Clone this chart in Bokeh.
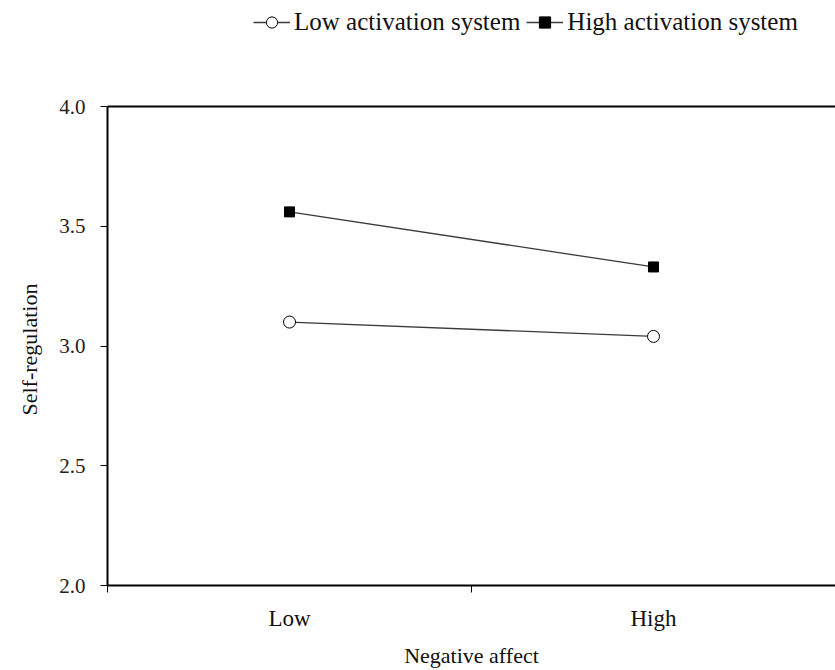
from bokeh.plotting import figure
from bokeh.models import (Range1d, FixedTicker, Legend, LegendItem, Span, Title,
                          CustomJSTickFormatter)
from bokeh.embed import file_html
from bokeh.resources import INLINE

# Interaction plot: self-regulation by negative affect level
categories = ["Low", "High"]
low_activation = [3.10, 3.04]
high_activation = [3.56, 3.33]
y_ticks = [2.0, 2.5, 3.0, 3.5, 4.0]
series_names = ["Low activation system", "High activation system"]
x_title = "Negative affect"
y_title = "Self-regulation"

SERIF = "Liberation Serif"

# each category occupies one unit; points sit at the category centre
x_pos = [i + 0.5 for i in range(len(categories))]
bounds = [float(i) for i in range(len(categories) + 1)]

# the frame reaches the top of the canvas so the legend band above the
# boxed area is drawn inside it; the value axis itself stops at 4.0
Y_MIN, Y_MAX = y_ticks[0], y_ticks[-1]
BOX_TOP, BOX_H = 106, 479
y_end = Y_MAX + (Y_MAX - Y_MIN) * BOX_TOP / BOX_H

p = figure(width=835, height=670, output_backend="svg", toolbar_location=None,
           x_range=Range1d(0, len(categories)), y_range=Range1d(Y_MIN, y_end),
           min_border_left=104, min_border_top=0, min_border_right=0,
           min_border_bottom=85)
p.outline_line_color = None
p.background_fill_color = "white"
p.border_fill_color = "white"
p.xgrid.visible = False
p.ygrid.visible = False

# y axis
p.yaxis.bounds = (Y_MIN, Y_MAX)
p.yaxis.ticker = FixedTicker(ticks=y_ticks)
p.yaxis.formatter = CustomJSTickFormatter(code="return tick.toFixed(1)")
p.yaxis.axis_line_width = 2
p.yaxis.major_tick_in = 0
p.yaxis.major_tick_out = 7
p.yaxis.minor_tick_out = 0
p.yaxis.minor_tick_in = 0
p.yaxis.major_label_text_font = SERIF
p.yaxis.major_label_text_font_size = "21px"
p.yaxis.major_label_text_color = "#222222"
p.yaxis.major_label_standoff = 15

# y title, centred on the boxed 2.0-4.0 span rather than the whole frame
p.add_layout(Title(text=y_title, align="left", offset=170,
                   text_font=SERIF, text_font_size="22px",
                   text_font_style="normal", text_color="#111111",
                   standoff=29), "left")

# x axis: labels at category centres, ticks on category boundaries
p.xaxis.ticker = FixedTicker(ticks=x_pos, minor_ticks=bounds)
p.xaxis.major_label_overrides = {x: c for x, c in zip(x_pos, categories)}
p.xaxis.axis_line_width = 2
p.xaxis.major_tick_in = 0
p.xaxis.major_tick_out = 0
p.xaxis.minor_tick_in = 0
p.xaxis.minor_tick_out = 7
p.xaxis.major_label_text_font = SERIF
p.xaxis.major_label_text_font_size = "23px"
p.xaxis.major_label_text_color = "#111111"
p.xaxis.major_label_standoff = 13
p.xaxis.axis_label = x_title
p.xaxis.axis_label_text_font = SERIF
p.xaxis.axis_label_text_font_size = "22px"
p.xaxis.axis_label_text_font_style = "normal"
p.xaxis.axis_label_text_color = "#111111"
p.xaxis.axis_label_standoff = 9

# top edge of the box
p.add_layout(Span(location=Y_MAX, dimension="width", line_color="black",
                  line_width=2))

line_color = "#3a3a3a"
l1 = p.line(x_pos, low_activation, line_color=line_color, line_width=1.3)
s1 = p.scatter(x_pos, low_activation, marker="circle", size=12,
               fill_color="white", line_color="black", line_width=1)
l2 = p.line(x_pos, high_activation, line_color=line_color, line_width=1.3)
s2 = p.scatter(x_pos, high_activation, marker="square", size=10,
               fill_color="black", line_color="black")

legend = Legend(items=[LegendItem(label=series_names[0], renderers=[l1, s1]),
                       LegendItem(label=series_names[1], renderers=[l2, s2])],
                location=(146, 549), orientation="horizontal",
                label_text_font=SERIF, label_text_font_size="25px",
                label_text_color="#111111",
                glyph_width=37, glyph_height=28, label_height=28,
                label_standoff=4, spacing=6,
                padding=0, margin=0,
                border_line_color=None, background_fill_alpha=0)
p.add_layout(legend, "center")

open("out.html", "w").write(file_html(p, INLINE))
